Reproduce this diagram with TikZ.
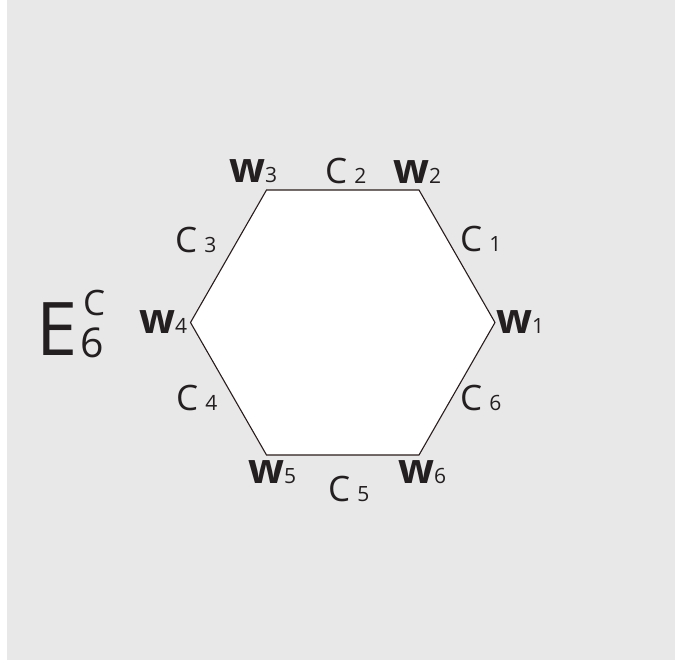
\documentclass[tikz,border=0pt]{standalone}
\usepackage{fontspec}
\setmainfont{Open Sans}
\definecolor{bg}{HTML}{E8E8E8}
\definecolor{ink}{HTML}{231F20}
\definecolor{edge}{HTML}{2A1C1C}
\newcommand\wlab[1]{{\fontsize{42}{42}\selectfont\bfseries w}\kern0pt{\fontsize{21}{21}\selectfont #1}}
\newcommand\clab[1]{{\fontsize{35}{35}\selectfont C}\kern7pt{\fontsize{21}{21}\selectfont #1}}
\begin{document}
\begin{tikzpicture}[x=1pt,y=-1pt,
  lab/.style={anchor=base west,inner sep=0pt,text=ink}]
\useasboundingbox (0,0) rectangle (675,665);
\fill[white] (0,0) rectangle (675,665);
\fill[bg] (7,0) rectangle (675,660);
\coordinate (v1) at (495,322.5);
\coordinate (v2) at (419,190);
\coordinate (v3) at (266.5,190);
\coordinate (v4) at (190.5,322.5);
\coordinate (v5) at (266.5,455);
\coordinate (v6) at (419,455);
\draw[edge,fill=white,line width=1.1pt,line join=miter] (v1) -- (v2) -- (v3) -- (v4) -- (v5) -- (v6) -- cycle;
\node[lab] (w3) at (229,182) {\wlab{3}};
\node[lab] (c2) at (325,183) {\clab{2}};
\node[lab] (w2) at (393,183) {\wlab{2}};
\node[lab] (c1) at (460,251) {\clab{1}};
\node[lab] (c3) at (175,252) {\clab{3}};
\node[lab] (w4) at (139,333) {\wlab{4}};
\node[lab] (w1) at (496,333) {\wlab{1}};
\node[lab] (c4) at (176,410) {\clab{4}};
\node[lab] (c6) at (460,410) {\clab{6}};
\node[lab] (w5) at (248,483) {\wlab{5}};
\node[lab] (c5) at (328,501) {\clab{5}};
\node[lab] (w6) at (398,483) {\wlab{6}};
\node[lab] (E) at (36,355) {\fontsize{74}{74}\selectfont E};
\node[lab] (Es) at (83,315) {\fontsize{35}{35}\selectfont C};
\node[lab] (Ei) at (80,357) {\fontsize{41}{41}\selectfont 6};
\end{tikzpicture}
\end{document}
